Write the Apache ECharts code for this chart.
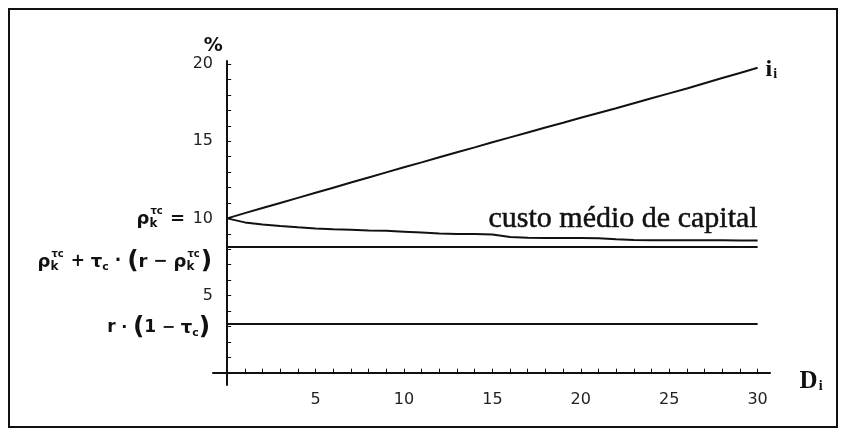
<!DOCTYPE html>
<html>
<head>
<meta charset="utf-8">
<script src="https://cdn.jsdelivr.net/npm/echarts@6/dist/echarts.min.js"></script>
<style>
html, body { margin: 0; padding: 0; background: #fff; }
#main { width: 842px; height: 436px; }
</style>
</head>
<body>
<div id="main"></div>
<script>
// dívida D_i (eixo x)
const debt = [0, 1, 2, 3, 4, 5, 6, 7, 8, 9, 10, 11, 12, 13, 14, 15, 16, 17, 18, 19, 20, 21, 22, 23, 24, 25, 26, 27, 28, 29, 30];
// taxa de juro i_i
const debtRate = [10.0, 10.34, 10.67, 11.0, 11.33, 11.66, 11.99, 12.32, 12.65, 12.98, 13.31, 13.63, 13.96, 14.28, 14.6, 14.93,
	15.25, 15.57, 15.89, 16.2, 16.52, 16.83, 17.14, 17.46, 17.78, 18.1, 18.42, 18.76, 19.1, 19.42, 19.76];
// custo médio de capital
const wacc = [10.0, 9.74, 9.6, 9.5, 9.42, 9.35, 9.3, 9.26, 9.22, 9.19, 9.14, 9.08, 9.02, 8.99, 8.98, 8.96,
	8.8, 8.74, 8.73, 8.72, 8.72, 8.71, 8.64, 8.6, 8.59, 8.59, 8.58, 8.58, 8.58, 8.57, 8.57];
// níveis horizontais
const waccFloor = [8.15, 8.15];
const afterTax = [3.16, 3.16];
const flatX = [0, 30];

const xTicks = [5, 10, 15, 20, 25, 30];
const yTicks = [5, 10, 15, 20];
const xMinor = [1, 2, 3, 4, 5, 6, 7, 8, 9, 10, 11, 12, 13, 14, 15, 16, 17, 18, 19, 20, 21, 22, 23, 24, 25, 26, 27, 28, 29, 30];
const yMinor = [1, 2, 3, 4, 5, 6, 7, 8, 9, 10, 11, 12, 13, 14, 15, 16, 17, 18, 19, 20];

const ink = '#111';
const chart = echarts.init(document.getElementById('main'));

function lineSeries(xs, ys) {
	return {
		type: 'line',
		data: xs.map((x, i) => [x, ys[i]]),
		showSymbol: false,
		silent: true,
		lineStyle: { color: ink, width: 2 }
	};
}

chart.setOption({
	backgroundColor: '#fff',
	animation: false,
	grid: { left: 213, right: 72, top: 61, bottom: 51 },
	xAxis: {
		type: 'value',
		min: -0.8,
		max: 30.7,
		splitLine: { show: false },
		axisLine: { onZero: true, lineStyle: { color: ink, width: 2 } },
		axisTick: { inside: true, length: 4, customValues: xMinor, lineStyle: { color: ink } },
		axisLabel: { customValues: xTicks, margin: 7, color: '#222', fontSize: 16, fontFamily: 'DejaVu Sans' }
	},
	yAxis: {
		type: 'value',
		min: -0.8,
		max: 20.2,
		splitLine: { show: false },
		axisLine: { onZero: true, lineStyle: { color: ink, width: 2 } },
		axisTick: { inside: true, length: 4, customValues: yMinor, lineStyle: { color: ink } },
		axisLabel: { customValues: yTicks, margin: 0, color: '#222', fontSize: 16, fontFamily: 'DejaVu Sans' }
	},
	series: [
		lineSeries(debt, debtRate),
		lineSeries(debt, wacc),
		lineSeries(flatX, waccFloor),
		lineSeries(flatX, afterTax)
	]
});

// montar rótulos matemáticos peça a peça
const ctx = document.createElement('canvas').getContext('2d');
function fontOf(size) { return 'bold ' + size + 'px "DejaVu Sans"'; }
function textW(t, size) { ctx.font = fontOf(size); return ctx.measureText(t).width; }
function piece(t, size, x, dy) {
	return {
		type: 'text', x: x, y: dy, silent: true,
		style: { text: t, font: fontOf(size), fill: ink, textVerticalAlign: 'middle', verticalAlign: 'middle' }
	};
}
function mathLabel(tokens, right, cy) {
	const kids = [];
	let x = 0;
	tokens.forEach(tk => {
		if (tk.sup) {
			const w = Math.max(textW(tk.sup, 10), textW(tk.sub, 12));
			kids.push(piece(tk.sup, 10, x + 1, -8));
			kids.push(piece(tk.sub, 12, x, 5));
			x += w + 2;
		} else {
			kids.push(piece(tk[0], tk[1], x, tk[2] || 0));
			x += textW(tk[0], tk[1]);
		}
	});
	return { type: 'group', x: right - x, y: cy, children: kids };
}
const rho = [['ρ', 18], { sup: 'τc', sub: 'k' }];
const tauC = [['τ', 18], ['c', 11, 5]];

const p10 = chart.convertToPixel({ gridIndex: 0 }, [0, 10]);
const pFloor = chart.convertToPixel({ gridIndex: 0 }, [0, waccFloor[0]]);
const pTax = chart.convertToPixel({ gridIndex: 0 }, [0, afterTax[0]]);
const pEnd = chart.convertToPixel({ gridIndex: 0 }, [30, debtRate[debtRate.length - 1]]);
const pAxis = chart.convertToPixel({ gridIndex: 0 }, [30, 0]);
const pTop = chart.convertToPixel({ gridIndex: 0 }, [0, 20]);
const pWacc = chart.convertToPixel({ gridIndex: 0 }, [30, 10.0]);

chart.setOption({
	graphic: [
		{
			type: 'rect', silent: true,
			shape: { x: 9, y: 9, width: 828, height: 418 },
			style: { fill: 'none', stroke: ink, lineWidth: 2 }
		},
		mathLabel(rho.concat([[' =', 18]]), p10[0] - 42, p10[1] + 1),
		mathLabel(rho.concat([[' + ', 17]], tauC, [[' · ', 17], ['(', 25], ['r', 18], [' − ', 17]], rho, [[')', 25]]),
			pFloor[0] - 15, pFloor[1] + 15),
		mathLabel([['r', 17], [' · ', 16], ['(', 25], ['1', 17], [' − ', 16]].concat(tauC, [[')', 25]]),
			pTax[0] - 17, pTax[1] + 4),
		{
			type: 'text', silent: true, x: pWacc[0], y: pWacc[1] + 1,
			style: { text: 'custo médio de capital', font: '30px "Liberation Serif"', fill: ink,
				stroke: ink, lineWidth: 0.5,
				textAlign: 'right', align: 'right', textVerticalAlign: 'middle', verticalAlign: 'middle' }
		},
		{
			type: 'text', silent: true, x: pEnd[0] + 8, y: pEnd[1] + 2,
			style: {
				text: '{a|i}{b|i}', fill: ink, textVerticalAlign: 'middle', verticalAlign: 'middle',
				rich: {
					a: { font: 'bold 24px "Liberation Serif"', fill: ink, color: ink, lineHeight: 24 },
					b: { font: 'bold 14px "Liberation Serif"', fill: ink, color: ink, lineHeight: 24, padding: [10, 0, 0, 1] }
				}
			}
		},
		{
			type: 'text', silent: true, x: pAxis[0] + 42, y: pAxis[1] + 9,
			style: {
				text: '{a|D}{b|i}', fill: ink, textVerticalAlign: 'middle', verticalAlign: 'middle',
				rich: {
					a: { font: 'bold 25px "Liberation Serif"', fill: ink, color: ink, lineHeight: 26 },
					b: { font: 'bold 14px "Liberation Serif"', fill: ink, color: ink, lineHeight: 26, padding: [10, 0, 0, 1] }
				}
			}
		},
		{
			type: 'text', silent: true, x: pTop[0] - 14, y: pTop[1] - 18,
			style: { text: '%', font: 'bold 19px "DejaVu Sans"', fill: ink,
				textAlign: 'center', align: 'center', textVerticalAlign: 'middle', verticalAlign: 'middle' }
		}
	]
});
</script>
</body>
</html>
